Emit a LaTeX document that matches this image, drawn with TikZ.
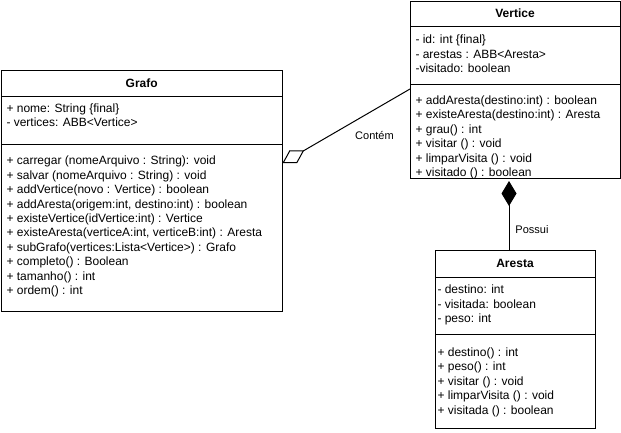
\documentclass[tikz,border=0pt]{standalone}
\usepackage{fontspec}
\setmainfont{Liberation Sans}
\usetikzlibrary{arrows.meta}
\begin{document}
\begin{tikzpicture}[x=1pt,y=-1pt,line width=1pt,
  classbox/.style={draw,line width=1pt,inner sep=0pt,outer sep=0pt,anchor=north west,fill=white},
  hdr/.style={font=\bfseries\fontsize{12}{14.4}\selectfont,inner sep=0pt},
  members/.style={font=\fontsize{12}{14.4}\selectfont,align=left,inner sep=0pt,anchor=north west},
  lbl/.style={font=\fontsize{11}{13}\selectfont,inner sep=0pt},
  sepline/.style={line width=1pt},
  aggr/.style={-{Diamond[open,fill=white,length=25pt,width=15pt]}},
  compo/.style={-{Diamond[length=25pt,width=15pt]}}
]
\useasboundingbox[fill=white] (0,0) rectangle (621,432);

% Grafo
\node[classbox,minimum width=281.5pt,minimum height=241pt] (grafo) at (1,70) {};
\draw[sepline] (grafo.north west |- 0,96) -- (grafo.north east |- 0,96);
\draw[sepline] (grafo.north west |- 0,144) -- (grafo.north east |- 0,144);
\node[hdr] (grafoh) at (141.7,83) {Grafo};
\node[members] (grafoa) at (6,101.9) {\strut+ nome: String \{final\}\\
\strut- vertices: ABB<Vertice>};
\node[members] (grafom) at (6,154.4) {\strut+ carregar (nomeArquivo : String): void\\
\strut+ salvar (nomeArquivo : String) : void\\
\strut+ addVertice(novo : Vertice) : boolean\\
\strut+ addAresta(origem:int, destino:int) : boolean\\
\strut+ existeVertice(idVertice:int) : Vertice\\
\strut+ existeAresta(verticeA:int, verticeB:int) : Aresta\\
\strut+ subGrafo(vertices:Lista<Vertice>) : Grafo\\
\strut+ completo() : Boolean\\
\strut+ tamanho() : int\\
\strut+ ordem() : int};

% Vertice
\node[classbox,minimum width=210pt,minimum height=177pt] (vertice) at (410,1) {};
\draw[sepline] (vertice.north west |- 0,26) -- (vertice.north east |- 0,26);
\draw[sepline] (vertice.north west |- 0,84) -- (vertice.north east |- 0,84);
\node[hdr] (verticeh) at (515,13.5) {Vertice};
\node[members] (verticea) at (415,33.4) {\strut- id: int \{final\}\\
\strut- arestas : ABB<Aresta>\\
\strut-visitado: boolean};
\node[members] (verticem) at (415,93.9) {\strut+ addAresta(destino:int) : boolean\\
\strut+ existeAresta(destino:int) : Aresta\\
\strut+ grau() : int\\
\strut+ visitar () : void\\
\strut+ limparVisita () : void\\
\strut+ visitado () : boolean};

% Aresta
\node[classbox,minimum width=160pt,minimum height=178pt] (aresta) at (435,250) {};
\draw[sepline] (aresta.north west |- 0,277) -- (aresta.north east |- 0,277);
\draw[sepline] (aresta.north west |- 0,334) -- (aresta.north east |- 0,334);
\node[hdr] (arestah) at (515,263.5) {Aresta};
\node[members] (arestaa) at (437,283.4) {\strut- destino: int\\
\strut- visitada: boolean\\
\strut- peso: int};
\node[members] (arestam) at (437,345.9) {\strut+ destino() : int\\
\strut+ peso() : int\\
\strut+ visitar () : void\\
\strut+ limparVisita () : void\\
\strut+ visitada () : boolean};

% connectors
\draw[aggr] (vertice.west |- 0,89) -- (grafo.east |- 0,163);
\draw[compo,shorten >=3pt] (509,0 |- aresta.north) -- (509,0 |- vertice.south);
\node[lbl] (contem) at (374.5,135) {Contém};
\node[lbl] (possui) at (532,230) {Possui};
\end{tikzpicture}
\end{document}
